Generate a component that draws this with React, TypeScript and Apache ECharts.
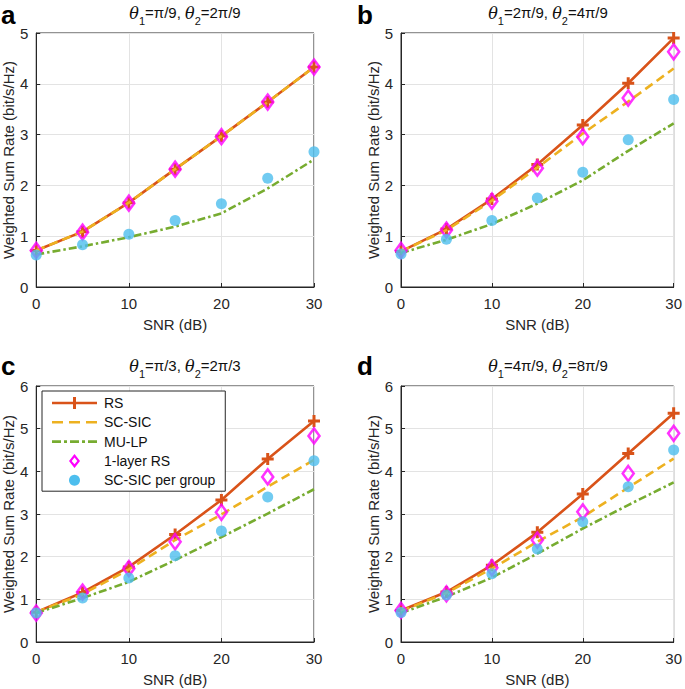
import React, { useEffect, useRef } from "react";
import * as echarts from "echarts";

const snr = [0, 5, 10, 15, 20, 25, 30];
const seriesNames = ["RS", "SC-SIC", "MU-LP", "1-layer RS", "SC-SIC per group"];
const panelLetters = ["a", "b", "c", "d"];
const panelTitles = [
  ["π/9", "2π/9"],
  ["2π/9", "4π/9"],
  ["π/3", "2π/3"],
  ["4π/9", "8π/9"],
];
const yMaxes = [5, 5, 6, 6];

// panel a
const rsA = [0.72, 1.09, 1.66, 2.32, 2.97, 3.64, 4.33];
const scsicA = [0.72, 1.09, 1.66, 2.32, 2.97, 3.64, 4.33];
const mulpA = [0.64, 0.8, 0.98, 1.19, 1.45, 1.94, 2.51];
const oneLayerA = [0.72, 1.08, 1.65, 2.32, 2.96, 3.64, 4.33];
const perGroupA = [0.63, 0.83, 1.04, 1.31, 1.64, 2.14, 2.66];
// panel b
const rsB = [0.7, 1.14, 1.73, 2.41, 3.19, 4.01, 4.9];
const scsicB = [0.7, 1.12, 1.7, 2.35, 3.02, 3.65, 4.3];
const mulpB = [0.67, 0.93, 1.24, 1.64, 2.1, 2.68, 3.22];
const oneLayerB = [0.72, 1.12, 1.69, 2.34, 2.96, 3.72, 4.63];
const perGroupB = [0.65, 0.94, 1.31, 1.75, 2.26, 2.9, 3.69];
// panel c
const rsC = [0.7, 1.16, 1.76, 2.52, 3.33, 4.29, 5.18];
const scsicC = [0.7, 1.12, 1.7, 2.39, 2.99, 3.64, 4.27];
const mulpC = [0.68, 1.03, 1.41, 1.92, 2.46, 3.01, 3.58];
const oneLayerC = [0.68, 1.17, 1.72, 2.35, 3.04, 3.87, 4.83];
const perGroupC = [0.68, 1.03, 1.5, 2.02, 2.6, 3.4, 4.25];
// panel d
const rsD = [0.74, 1.17, 1.8, 2.57, 3.47, 4.42, 5.36];
const scsicD = [0.72, 1.15, 1.72, 2.35, 2.93, 3.62, 4.3];
const mulpD = [0.68, 1.06, 1.51, 2.07, 2.66, 3.21, 3.74];
const oneLayerD = [0.74, 1.13, 1.74, 2.39, 3.05, 3.95, 4.89];
const perGroupD = [0.69, 1.1, 1.6, 2.18, 2.82, 3.64, 4.5];

const panelData = [
  [rsA, scsicA, mulpA, oneLayerA, perGroupA],
  [rsB, scsicB, mulpB, oneLayerB, perGroupB],
  [rsC, scsicC, mulpC, oneLayerC, perGroupC],
  [rsD, scsicD, mulpD, oneLayerD, perGroupD],
];

const colors = ["#D95319", "#EDB120", "#77AC30", "#FF00FF", "#4DBEEE"];
const grids = [
  { left: 36, top: 33, width: 278, height: 254 },
  { left: 401, top: 33, width: 277, height: 254 },
  { left: 36, top: 386, width: 278, height: 256 },
  { left: 401, top: 386, width: 277, height: 256 },
];
const titlePos = [
  { x: 185, y: 5 },
  { x: 548, y: 5 },
  { x: 185, y: 358 },
  { x: 548, y: 358 },
];
const letterPos = [
  { x: 1, y: 2 },
  { x: 357, y: 2 },
  { x: 1, y: 353 },
  { x: 357, y: 353 },
];

const FONT = "Liberation Sans, Arial, Helvetica, sans-serif";
const INK = "#262626";
const PLUS = "path://M4.5,0H7.5V4.5H12V7.5H7.5V12H4.5V7.5H0V4.5H4.5Z";

// legend icons drawn in a 45x14 box (corner specks fix the bounding box)
const BOX = "M0,0h0.01v0.01h-0.01z M44.99,13.99h0.01v0.01h-0.01z ";
const ICON_RS = "path://" + BOX + "M0,5.7H45V8.3H0Z M21,1H24V5.7H21Z M21,8.3H24V13H21Z";
const ICON_SCSIC = "path://" + BOX + "M0,5.7H11V8.3H0Z M17,5.7H28V8.3H17Z M34,5.7H45V8.3H34Z";
const ICON_MULP =
  "path://" + BOX + "M0,5.7H9V8.3H0Z M12,5.7H15V8.3H12Z M18,5.7H27V8.3H18Z M30,5.7H33V8.3H30Z M36,5.7H45V8.3H36Z";
const ICON_DIAMOND =
  "path://" + BOX + "M22.5,0L28,7L22.5,14L17,7Z M22.5,3.6L19.7,7L22.5,10.4L25.3,7Z";
const ICON_DOT =
  "path://" + BOX + "M22.5,1.5A5.5,5.5,0,1,1,22.49,1.5Z";

export default function App() {
  const ref = useRef<HTMLDivElement>(null);
  useEffect(() => {
    if (!ref.current) return;
    const chart = echarts.init(ref.current, null, { renderer: "svg" });
    const xAxis: any[] = [];
    const yAxis: any[] = [];
    const series: any[] = [];
    const title: any[] = [];
    grids.forEach((g, i) => {
      xAxis.push({
        type: "value",
        gridIndex: i,
        min: 0,
        max: 30,
        interval: 10,
        name: "SNR (dB)",
        nameLocation: "middle",
        nameGap: 30,
        nameTextStyle: { fontSize: 15, color: INK, fontFamily: FONT },
        axisLine: { show: true, onZero: false, lineStyle: { color: INK, width: 1 } },
        axisTick: { show: true, inside: true, length: 4, lineStyle: { color: INK } },
        axisLabel: { fontSize: 15, color: INK, fontFamily: FONT, margin: 9 },
        splitLine: { show: true, lineStyle: { color: "#E3E3E3", width: 1 } },
      });
      yAxis.push({
        type: "value",
        gridIndex: i,
        min: 0,
        max: yMaxes[i],
        interval: 1,
        name: "Weighted Sum Rate (bit/s/Hz)",
        nameLocation: "middle",
        nameGap: 20,
        nameTextStyle: { fontSize: 15, color: INK, fontFamily: FONT },
        axisLine: { show: true, onZero: false, lineStyle: { color: INK, width: 1 } },
        axisTick: { show: true, inside: true, length: 4, lineStyle: { color: INK } },
        axisLabel: { fontSize: 15, color: INK, fontFamily: FONT, margin: 8 },
        splitLine: { show: true, lineStyle: { color: "#E3E3E3", width: 1 } },
      });
      const [t1, t2] = panelTitles[i];
      title.push({
        left: titlePos[i].x,
        top: titlePos[i].y,
        textAlign: "center",
        padding: 0,
        text: `{t|θ}{s|1}{n|=${t1}, }{t|θ}{s|2}{n|=${t2}}`,
        textStyle: {
          fontWeight: "normal",
          rich: {
            t: { fontSize: 16, fontStyle: "italic", fontWeight: "normal", fontFamily: "DejaVu Serif, serif", color: "#111", verticalAlign: "top", lineHeight: 16 },
            n: { fontSize: 15, fontWeight: "normal", fontFamily: FONT, color: "#111", verticalAlign: "top", lineHeight: 16 },
            s: { fontSize: 11, fontWeight: "normal", fontFamily: FONT, color: "#111", verticalAlign: "bottom", lineHeight: 21 },
          },
        },
      });
      title.push({
        left: letterPos[i].x,
        top: letterPos[i].y,
        padding: 0,
        text: panelLetters[i],
        textStyle: { fontSize: 26, lineHeight: 26, fontWeight: "bold", fontFamily: FONT, color: "#000" },
      });
      const d = panelData[i];
      const pts = (arr: number[]) => snr.map((x, k) => [x, arr[k]]);
      series.push({
        name: seriesNames[0],
        type: "line",
        xAxisIndex: i,
        yAxisIndex: i,
        data: pts(d[0]),
        symbol: PLUS,
        symbolSize: 12,
        showSymbol: true,
        itemStyle: { color: colors[0] },
        lineStyle: { color: colors[0], width: 2.6 },
        z: 2,
      });
      series.push({
        name: seriesNames[1],
        type: "line",
        xAxisIndex: i,
        yAxisIndex: i,
        data: pts(d[1]),
        symbol: "none",
        itemStyle: { color: colors[1] },
        lineStyle: { color: colors[1], width: 2.6, type: [9, 5] },
        z: 3,
      });
      series.push({
        name: seriesNames[2],
        type: "line",
        xAxisIndex: i,
        yAxisIndex: i,
        data: pts(d[2]),
        symbol: "none",
        itemStyle: { color: colors[2] },
        lineStyle: { color: colors[2], width: 2.6, type: [8, 3, 2.5, 3] },
        z: 3,
      });
      series.push({
        name: seriesNames[3],
        type: "scatter",
        xAxisIndex: i,
        yAxisIndex: i,
        data: pts(d[3]),
        symbol: "diamond",
        symbolSize: [11, 15],
        itemStyle: { color: "rgba(255,255,255,0)", borderColor: colors[3], borderWidth: 2.6 },
        z: 4,
      });
      series.push({
        name: seriesNames[4],
        type: "scatter",
        xAxisIndex: i,
        yAxisIndex: i,
        data: pts(d[4]),
        symbol: "circle",
        symbolSize: 11,
        itemStyle: { color: colors[4] },
        z: 5,
      });
    });

    const icons = [ICON_RS, ICON_SCSIC, ICON_MULP, ICON_DIAMOND, ICON_DOT];
    chart.setOption({
      animation: false,
      backgroundColor: "#ffffff",
      title,
      grid: grids.map((g) => ({ ...g, show: true, borderColor: INK, borderWidth: 1, backgroundColor: "#fff" })),
      xAxis,
      yAxis,
      legend: {
        data: seriesNames.map((n, k) => ({
          name: n,
          icon: icons[k],
          itemStyle: { color: colors[k], borderWidth: 0, opacity: 1 },
          lineStyle: { width: 0, opacity: 0 },
        })),
        orient: "vertical",
        left: 42,
        top: 391,
        padding: [5, 10, 4, 10],
        itemGap: 5.3,
        itemWidth: 45,
        itemHeight: 14,
        backgroundColor: "#fff",
        borderColor: INK,
        borderWidth: 1,
        borderRadius: 0,
        selectedMode: false,
        textStyle: { fontSize: 14, color: "#111", fontFamily: FONT, padding: [0, 0, 0, 2] },
        z: 10,
      },
      series,
    });
    return () => chart.dispose();
  }, []);
  return <div ref={ref} style={{ position: "fixed", left: 0, top: 0, width: 685, height: 689 }} />;
}
